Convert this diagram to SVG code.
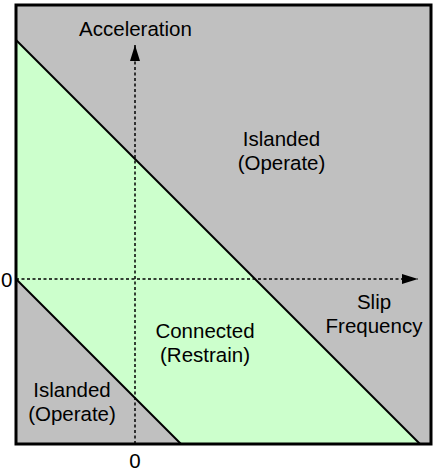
<svg xmlns="http://www.w3.org/2000/svg" width="433" height="472" viewBox="0 0 433 472">
<style>
text{font-family:"Liberation Sans",Arial,sans-serif;font-size:20.5px;fill:#000;text-anchor:middle}
.ax{stroke:#000;stroke-width:1.5;stroke-dasharray:3 2.5;fill:none}
.bd{stroke:#000;stroke-width:2;fill:none}
</style>
<defs>
<marker id="ah" markerWidth="16" markerHeight="10" refX="16" refY="5" orient="auto" markerUnits="userSpaceOnUse"><path d="M0,0L16,5L0,10z" fill="#000"/></marker>
</defs>
<g id="regions">
<rect x="16" y="5" width="415" height="439" fill="#C0C0C0"/>
<polygon points="16,40 420,444 181,444 16,279" fill="#CCFFCC"/>
</g>
<g id="connectors">
<line class="ax" x1="135" y1="444" x2="135" y2="45" marker-end="url(#ah)"/>
<line class="ax" x1="16" y1="279" x2="418" y2="279" marker-end="url(#ah)"/>
<line class="bd" x1="16" y1="40" x2="420" y2="444"/>
<line class="bd" x1="16" y1="279" x2="181" y2="444"/>
</g>
<rect x="16" y="5" width="415" height="439" fill="none" stroke="#000" stroke-width="3"/>
<g id="labels">
<text x="135.5" y="36">Acceleration</text>
<text x="281.5" y="146">Islanded</text>
<text x="281.5" y="170">(Operate)</text>
<text x="205" y="338">Connected</text>
<text x="205" y="362">(Restrain)</text>
<text x="72" y="397">Islanded</text>
<text x="72" y="421">(Operate)</text>
<text x="374" y="309">Slip</text>
<text x="374" y="333">Frequency</text>
<text x="135" y="468">0</text>
<text x="12.5" y="287" style="text-anchor:end">0</text>
</g>
</svg>
